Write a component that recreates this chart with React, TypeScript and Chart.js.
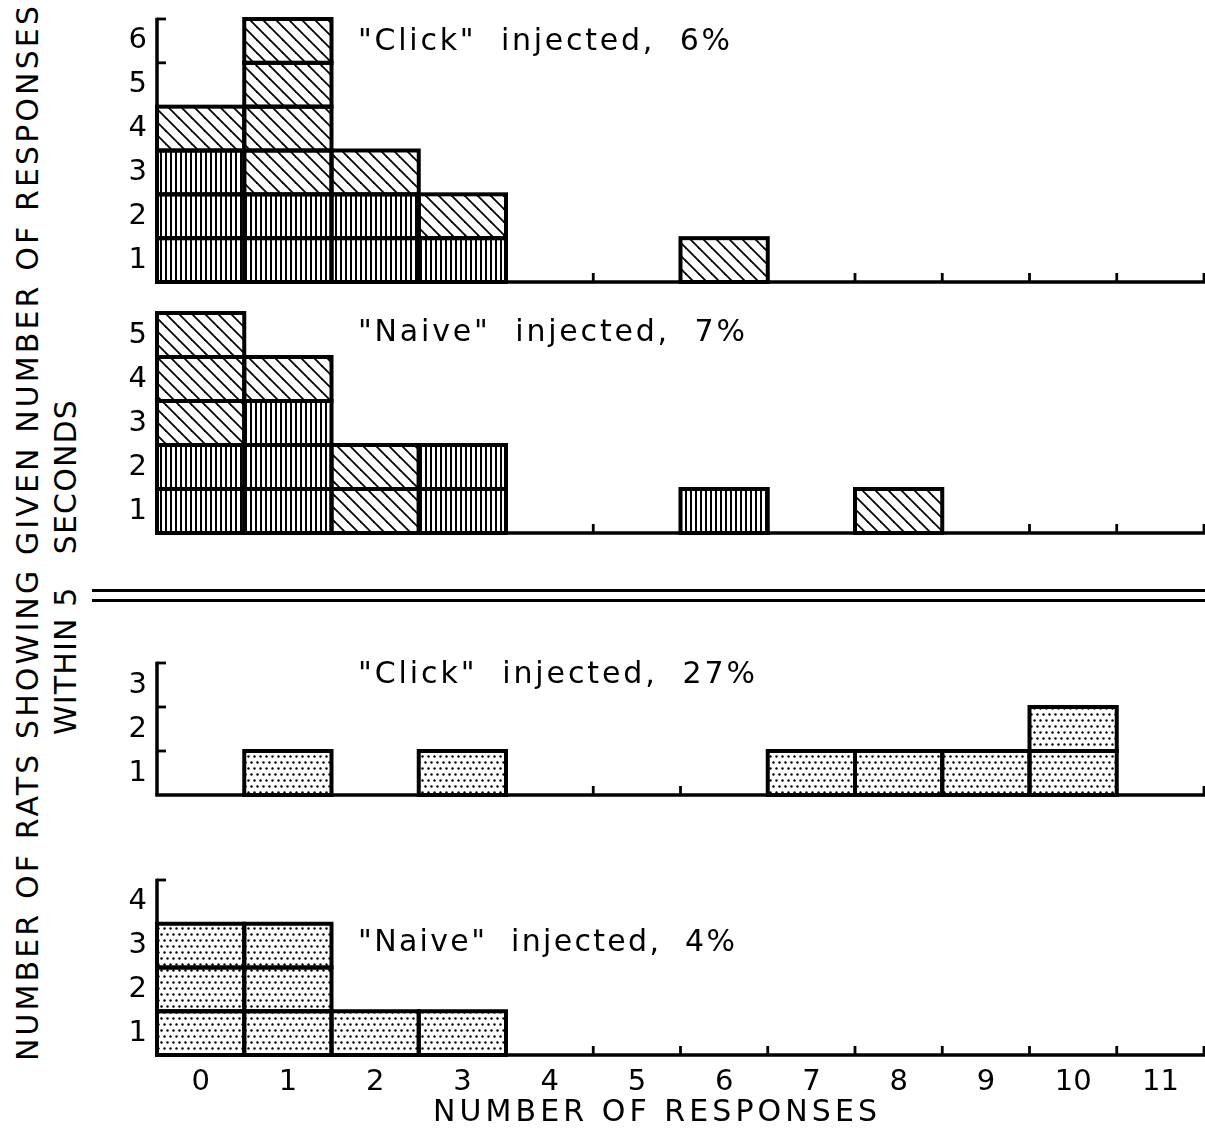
import React, { useEffect, useRef } from 'react';
import { Chart, registerables } from 'chart.js';

Chart.register(...registerables);

const FONT = '"DejaVu Sans", sans-serif';

// ---------------- data ----------------
const categories = ['0', '1', '2', '3', '4', '5', '6', '7', '8', '9', '10', '11'];

// upper half (vertical-hatched blocks at the bottom of each stack, diagonal on top)
const clickUpperVertical = [3, 2, 2, 1, 0, 0, 0, 0, 0, 0, 0, 0];
const clickUpperDiagonal = [1, 4, 1, 1, 0, 0, 1, 0, 0, 0, 0, 0];
const naiveUpperVertical = [2, 3, 0, 2, 0, 0, 1, 0, 0, 0, 0, 0];
const naiveUpperDiagonal = [3, 1, 2, 0, 0, 0, 0, 0, 1, 0, 0, 0];
// lower half (stippled blocks)
const clickLowerDotted = [0, 1, 0, 1, 0, 0, 0, 1, 1, 1, 2, 0];
const naiveLowerDotted = [3, 3, 1, 1, 0, 0, 0, 0, 0, 0, 0, 0];

const panelLabels = [
  '"Click"  injected,  6%',
  '"Naive"  injected,  7%',
  '"Click"  injected,  27%',
  '"Naive"  injected,  4%',
];
const panelYMax = [6, 5, 3, 4];

const xAxisTitle = 'NUMBER OF RESPONSES';
const yAxisTitle = 'NUMBER OF RATS SHOWING GIVEN NUMBER OF RESPONSES';
const yAxisSubtitle = 'WITHIN 5   SECONDS';

// ---------------- helpers ----------------
type Fill = 'vertical' | 'diagonal' | 'dots';
const patternCache: Record<string, CanvasPattern> = {};

function makePattern(kind: Fill): CanvasPattern {
  if (patternCache[kind]) return patternCache[kind];
  const c = document.createElement('canvas');
  const g = c.getContext('2d')!;
  if (kind === 'vertical') {
    c.width = 5;
    c.height = 4;
    g.fillStyle = '#fff';
    g.fillRect(0, 0, 5, 4);
    g.fillStyle = '#000';
    g.fillRect(0, 0, 2, 4);
  } else if (kind === 'diagonal') {
    const s = 13;
    c.width = s;
    c.height = s;
    g.fillStyle = '#fff';
    g.fillRect(0, 0, s, s);
    g.strokeStyle = '#000';
    g.lineWidth = 1.8;
    for (const o of [-s, 0, s]) {
      g.beginPath();
      g.moveTo(o - 1, -1);
      g.lineTo(o + s + 1, s + 1);
      g.stroke();
    }
  } else {
    c.width = 6;
    c.height = 12;
    g.fillStyle = '#fff';
    g.fillRect(0, 0, 6, 12);
    g.fillStyle = '#000';
    for (const [dx, dy] of [[1.5, 2.5], [4.5, 8.5]]) {
      g.beginPath();
      g.arc(dx, dy, 1.2, 0, Math.PI * 2);
      g.fill();
    }
  }
  const p = g.createPattern(c, 'repeat')!;
  patternCache[kind] = p;
  return p;
}

let measureCtx: CanvasRenderingContext2D | null = null;
function spacingFor(text: string, font: string, target: number): number {
  if (!measureCtx) measureCtx = document.createElement('canvas').getContext('2d');
  const g = measureCtx!;
  g.font = font;
  (g as any).letterSpacing = '0px';
  const w = g.measureText(text).width;
  return (target - w) / Math.max(1, text.length - 1);
}

function drawSpacedText(ctx: any, text: string, font: string, width: number, x: number, y: number, align: 'left' | 'center') {
  const ls = spacingFor(text, font, width);
  ctx.save();
  ctx.font = font;
  ctx.letterSpacing = `${ls}px`;
  ctx.fillStyle = '#000';
  ctx.textBaseline = 'middle';
  ctx.textAlign = 'left';
  const x0 = align === 'center' ? x - width / 2 : x;
  ctx.fillText(text, x0, y);
  ctx.restore();
}

type Series = { values: number[]; fill: Fill };

interface PanelProps {
  top: number;
  height: number;
  padTop: number;
  padBottom: number;
  series: Series[];
  yMax: number;
  label: string;
  labelDy: number;
  labelWidth: number;
  showX: boolean;
}

const CANVAS_LEFT = 100;
const CANVAS_W = 1105;
const TEXT_FONT = `30px ${FONT}`;

function Panel(p: PanelProps) {
  const ref = useRef<HTMLCanvasElement>(null);
  useEffect(() => {
    const totals = categories.map((_, i) => p.series.reduce((s, se) => s + se.values[i], 0));
    const maxLevel = Math.max(...totals);
    const datasets: any[] = [];
    for (let k = 1; k <= maxLevel; k++) {
      datasets.push({
        data: categories.map((_, i) => (totals[i] >= k ? 1 : null)),
        backgroundColor: categories.map((_, i) => {
          let acc = 0;
          for (const se of p.series) {
            acc += se.values[i];
            if (k <= acc) return makePattern(se.fill);
          }
          return 'rgba(0,0,0,0)';
        }),
        borderWidth: 0,
        categoryPercentage: 1,
        barPercentage: 1,
        stack: 'blocks',
      });
    }

    const axisPlugin = {
      id: 'axes',
      beforeDatasetsDraw(chart: any) {
        const { ctx, chartArea } = chart;
        const xs = chart.scales.x;
        const ys = chart.scales.y;
        const y0 = ys.getPixelForValue(0);
        ctx.save();
        ctx.strokeStyle = '#000';
        ctx.lineWidth = 3.5;
        ctx.beginPath();
        ctx.moveTo(chartArea.left - 1.75, y0);
        ctx.lineTo(chartArea.right + 1, y0);
        ctx.stroke();
        ctx.beginPath();
        ctx.moveTo(chartArea.left, y0);
        ctx.lineTo(chartArea.left, ys.getPixelForValue(ys.max) - 1.3);
        ctx.stroke();
        ctx.lineWidth = 2.8;
        for (let v = 1; v <= ys.max; v++) {
          const py = ys.getPixelForValue(v);
          ctx.beginPath();
          ctx.moveTo(chartArea.left, py);
          ctx.lineTo(chartArea.left + 9, py);
          ctx.stroke();
        }
        for (let i = 0; i < categories.length; i++) {
          const px = xs.getPixelForValue(i + 0.5);
          ctx.beginPath();
          ctx.moveTo(px, y0);
          ctx.lineTo(px, y0 - 9);
          ctx.stroke();
        }
        ctx.restore();
      },
      afterDatasetsDraw(chart: any) {
        const ctx = chart.ctx;
        ctx.save();
        ctx.strokeStyle = '#000';
        ctx.lineWidth = 4;
        chart.data.datasets.forEach((ds: any, di: number) => {
          const meta = chart.getDatasetMeta(di);
          meta.data.forEach((el: any, i: number) => {
            if (ds.data[i] == null) return;
            const { x, y, base, width } = el.getProps(['x', 'y', 'base', 'width'], true);
            ctx.strokeRect(x - width / 2, Math.min(y, base), width, Math.abs(base - y));
          });
        });
        ctx.restore();
      },
      afterDraw(chart: any) {
        const { chartArea } = chart;
        drawSpacedText(chart.ctx, p.label, TEXT_FONT, p.labelWidth, chartArea.left + 201, chartArea.top + p.labelDy, 'left');
        if (p.showX) {
          // x-axis title, centred under the plot
          drawSpacedText(chart.ctx, xAxisTitle, TEXT_FONT, 444, 655 - CANVAS_LEFT, chartArea.bottom + 58, 'center');
        }
      },
    };

    const tickFont = { family: FONT, size: 29 };
    const chart = new Chart(ref.current!, {
      type: 'bar',
      data: { labels: categories, datasets },
      options: {
        animation: false,
        responsive: false,
        maintainAspectRatio: false,
        events: [],
        layout: { padding: { top: p.padTop, bottom: p.showX ? 0 : p.padBottom, left: 0, right: 1 } },
        plugins: { legend: { display: false }, tooltip: { enabled: false }, title: { display: false } },
        scales: {
          x: {
            type: 'category',
            offset: true,
            stacked: true,
            display: p.showX,
            grid: { display: false, drawTicks: false },
            border: { display: false },
            ticks: { font: tickFont, color: '#000', padding: 10, maxRotation: 0, autoSkip: false },
            afterFit: (s: any) => {
              if (!p.showX) return;
              s.height = 77;
              s.paddingLeft = 0;
              s.paddingRight = 0;
            },
          },
          y: {
            stacked: true,
            min: 0,
            max: p.yMax,
            grid: { display: false, drawTicks: false },
            border: { display: false },
            afterBuildTicks: (s: any) => {
              s.ticks = Array.from({ length: p.yMax }, (_, i) => ({ value: i + 0.5 }));
            },
            ticks: {
              font: tickFont,
              color: '#000',
              padding: 10,
              autoSkip: false,
              callback: (v: any) => String(Number(v) + 0.5),
            },
            afterFit: (s: any) => {
              s.width = 57;
              s.paddingTop = 0;
              s.paddingBottom = 0;
            },
          },
        },
      } as any,
      plugins: [axisPlugin],
    });
    return () => chart.destroy();
  }, []);
  return (
    <canvas
      ref={ref}
      width={CANVAS_W}
      height={p.height}
      style={{ position: 'absolute', left: CANVAS_LEFT, top: p.top, display: 'block' }}
    />
  );
}

function RotatedText({ text, cx, cy, length, size }: { text: string; cx: number; cy: number; length: number; size: number }) {
  const font = `${size}px ${FONT}`;
  const ls = spacingFor(text, font, length);
  return (
    <div
      style={{
        position: 'absolute',
        left: cx,
        top: cy,
        transform: 'translate(-50%, -50%) rotate(-90deg)',
        whiteSpace: 'pre',
        font,
        lineHeight: 1,
        letterSpacing: `${ls}px`,
        color: '#000',
      }}
    >
      {text}
    </div>
  );
}

export default function App() {
  const panels: PanelProps[] = [
    {
      top: 0, height: 292, padTop: 19, padBottom: 10, yMax: panelYMax[0], showX: false,
      series: [{ values: clickUpperVertical, fill: 'vertical' }, { values: clickUpperDiagonal, fill: 'diagonal' }],
      label: panelLabels[0], labelDy: 23, labelWidth: 372,
    },
    {
      top: 300, height: 243, padTop: 13, padBottom: 10, yMax: panelYMax[1], showX: false,
      series: [{ values: naiveUpperVertical, fill: 'vertical' }, { values: naiveUpperDiagonal, fill: 'diagonal' }],
      label: panelLabels[1], labelDy: 20, labelWidth: 387,
    },
    {
      top: 640, height: 165, padTop: 23, padBottom: 10, yMax: panelYMax[2], showX: false,
      series: [{ values: clickLowerDotted, fill: 'dots' }],
      label: panelLabels[2], labelDy: 12, labelWidth: 397,
    },
    {
      top: 860, height: 272, padTop: 20, padBottom: 0, yMax: panelYMax[3], showX: true,
      series: [{ values: naiveLowerDotted, fill: 'dots' }],
      label: panelLabels[3], labelDy: 63, labelWidth: 377,
    },
  ];
  return (
    <div style={{ position: 'absolute', left: 0, top: 0, width: 1205, height: 1132, background: '#fff', overflow: 'hidden' }}>
      {panels.map((pp, i) => (
        <Panel key={i} {...pp} />
      ))}
      <div style={{ position: 'absolute', left: 92, top: 589, width: 1113, height: 3, background: '#000' }} />
      <div style={{ position: 'absolute', left: 92, top: 599, width: 1113, height: 3, background: '#000' }} />
      <RotatedText text={yAxisTitle} cx={28} cy={532} length={1055} size={30} />
      <RotatedText text={yAxisSubtitle} cx={66} cy={567} length={335} size={30} />
    </div>
  );
}
